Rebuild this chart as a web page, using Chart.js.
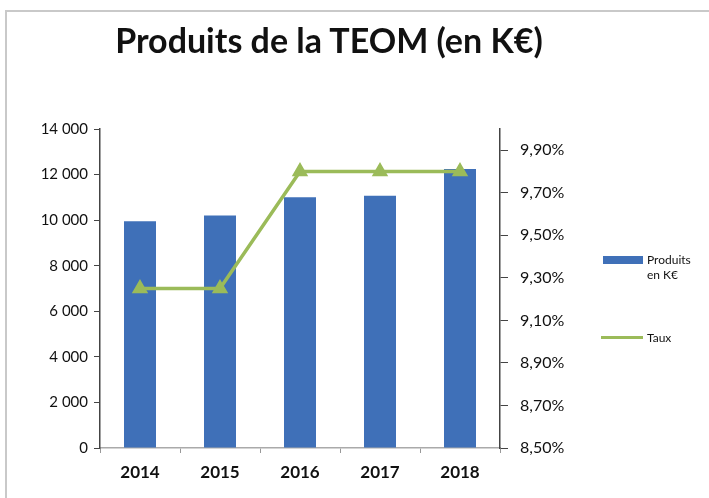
<!DOCTYPE html>
<html>
<head>
<meta charset="utf-8">
<script src="https://cdn.jsdelivr.net/npm/chart.js@4.4.1/dist/chart.umd.min.js"></script>
<style>
  body { margin: 0; background: #fff; }
  #wrap { position: relative; width: 709px; height: 498px; overflow: hidden; }
  #frame { position: absolute; left: 5px; top: 10px; width: 720px; height: 500px;
           border-left: 2px solid #c9c9c9; border-top: 2px solid #c9c9c9; }
  #title { position: absolute; left: 0; width: 658px; top: 19px; text-align: center;
           font: bold 34px Lato, "Open Sans", sans-serif; color: #111; }
  .leg { position: absolute; font: 12px Lato, "Open Sans", sans-serif; color: #111; line-height: 15px; }
  .sw { position: absolute; }
</style>
</head>
<body>
<div id="wrap">
  <div id="frame"></div>
  <div id="title">Produits de la TEOM (en K€)</div>
  <canvas id="chart" width="709" height="498"></canvas>
  <div class="sw" style="left:603px;top:256px;width:40px;height:8px;background:#3F70B8"></div>
  <div class="leg" style="left:647px;top:252px">Produits<br>en K€</div>
  <div class="sw" style="left:601px;top:336px;width:42px;height:3px;background:#9BBB59"></div>
  <div class="leg" style="left:647px;top:330px">Taux</div>
</div>
<script>
// years, product amounts (K€) and rate (%)
const years = ['2014', '2015', '2016', '2017', '2018'];
const produits = [9950, 10200, 11000, 11070, 12250];
const taux = [9.25, 9.25, 9.80, 9.80, 9.80];
const rateTicks = [8.5, 8.7, 8.9, 9.1, 9.3, 9.5, 9.7, 9.9];

const fontFamily = 'Lato, "Open Sans", sans-serif';

new Chart(document.getElementById('chart'), {
    data: {
        labels: years,
        datasets: [{
            type: 'line',
            label: 'Taux',
            data: taux,
            yAxisID: 'y1',
            borderColor: '#9BBB59',
            backgroundColor: '#9BBB59',
            borderWidth: 3.5,
            pointStyle: 'triangle',
            pointRadius: 6,
            tension: 0,
            order: 0
        }, {
            type: 'bar',
            label: 'Produits en K€',
            data: produits,
            yAxisID: 'y',
            backgroundColor: '#3F70B8',
            categoryPercentage: 1,
            barPercentage: 0.4,
            order: 1
        }]
    },
    options: {
        responsive: false,
        animation: false,
        layout: { padding: { top: 129, left: 0, right: 0, bottom: 0 } },
        plugins: { legend: { display: false }, tooltip: { enabled: false } },
        scales: {
            x: {
                grid: { offset: true, drawOnChartArea: false, color: '#999', tickLength: 5 },
                border: { color: '#aaa', width: 1.5 },
                ticks: { color: '#111', font: { family: fontFamily, size: 17, weight: 'bold' }, padding: 9 },
                afterFit: s => { s.height = 50; }
            },
            y: {
                position: 'left',
                min: 0, max: 14000,
                grid: { drawOnChartArea: false, color: '#444', tickLength: 6 },
                border: { color: '#444', width: 1.5 },
                ticks: {
                    stepSize: 2000, color: '#111', font: { family: fontFamily, size: 15 }, padding: 6,
                    callback: v => v.toLocaleString('fr-FR').replace(/\s/g, ' ')
                },
                afterFit: s => { s.width = 100; }
            },
            y1: {
                position: 'right',
                min: 8.5, max: 10.0,
                grid: { drawOnChartArea: false, color: '#444', tickLength: 8 },
                border: { color: '#444', width: 1.5 },
                afterBuildTicks: s => { s.ticks = rateTicks.map(v => ({ value: v })); },
                ticks: {
                    color: '#111', font: { family: fontFamily, size: 16 }, padding: 12,
                    callback: v => v.toFixed(2).replace('.', ',') + '%'
                },
                afterFit: s => { s.width = 209; }
            }
        }
    }
});
</script>
</body>
</html>
